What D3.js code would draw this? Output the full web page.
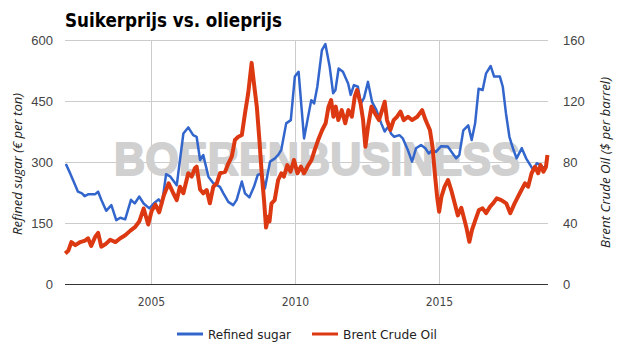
<!DOCTYPE html>
<html><head><meta charset="utf-8">
<script src="https://cdn.jsdelivr.net/npm/d3@7"></script>
<style>body{margin:0;background:#fff;} svg{display:block;}</style>
</head><body>
<svg id="c" width="625" height="355"></svg>
<script>
const title = "Suikerprijs vs. olieprijs";
const leftTicks = [0, 150, 300, 450, 600];
const rightTicks = [0, 40, 80, 120, 160];
const xTicks = [2005, 2010, 2015];
const seriesNames = ["Refined sugar", "Brent Crude Oil"];

const sugarYears = [2002.03,2002.18,2002.30,2002.45,2002.59,2002.68,2002.82,2003.05,2003.15,2003.26,2003.43,2003.61,2003.78,2003.92,2004.09,2004.29,2004.42,2004.58,2004.73,2004.93,2005.08,2005.25,2005.37,2005.51,2005.66,2005.88,2006.11,2006.28,2006.45,2006.57,2006.69,2006.80,2006.98,2007.15,2007.38,2007.50,2007.67,2007.84,2007.96,2008.14,2008.25,2008.40,2008.56,2008.69,2008.83,2008.94,2009.12,2009.29,2009.41,2009.51,2009.68,2009.84,2009.98,2010.11,2010.30,2010.44,2010.55,2010.65,2010.76,2010.92,2011.04,2011.19,2011.31,2011.39,2011.50,2011.65,2011.83,2011.92,2012.03,2012.17,2012.27,2012.38,2012.52,2012.66,2012.81,2012.98,2013.10,2013.22,2013.32,2013.43,2013.61,2013.73,2013.90,2014.05,2014.19,2014.36,2014.51,2014.63,2014.77,2014.88,2015.06,2015.29,2015.46,2015.58,2015.69,2015.83,2016.00,2016.12,2016.24,2016.36,2016.50,2016.62,2016.78,2016.90,2017.10,2017.20,2017.31,2017.43,2017.57,2017.68,2017.86,2018.01,2018.15,2018.26,2018.38,2018.49,2018.63,2018.72];
const sugarValues = [295,272,252,227,223,216,221,221,227,207,180,194,157,163,159,207,198,215,198,186,198,208,198,270,264,243,370,385,366,362,305,317,264,248,239,223,202,194,207,252,223,213,239,268,272,235,301,309,318,330,395,403,510,522,358,411,452,444,485,575,590,534,469,477,530,522,493,465,489,485,444,457,497,448,428,395,375,387,370,362,366,358,330,301,334,342,334,321,330,325,339,338,321,309,317,378,390,354,395,480,477,518,536,510,510,485,420,362,330,309,334,309,293,280,297,293,285,293];

const oilYears = [2002.01,2002.12,2002.22,2002.36,2002.53,2002.70,2002.80,2002.91,2003.05,2003.15,2003.26,2003.40,2003.57,2003.75,2003.92,2004.09,2004.27,2004.44,2004.58,2004.73,2004.89,2005.01,2005.14,2005.27,2005.43,2005.60,2005.76,2005.88,2005.99,2006.11,2006.28,2006.40,2006.51,2006.57,2006.69,2006.80,2006.92,2007.03,2007.15,2007.27,2007.38,2007.56,2007.67,2007.79,2007.90,2008.02,2008.14,2008.25,2008.36,2008.48,2008.56,2008.66,2008.75,2008.83,2008.91,2008.98,2009.06,2009.10,2009.17,2009.28,2009.40,2009.51,2009.60,2009.72,2009.83,2009.95,2010.07,2010.19,2010.30,2010.42,2010.56,2010.67,2010.79,2010.93,2011.05,2011.15,2011.24,2011.32,2011.40,2011.49,2011.61,2011.73,2011.84,2011.96,2012.06,2012.14,2012.26,2012.35,2012.43,2012.52,2012.64,2012.76,2012.90,2013.01,2013.10,2013.18,2013.30,2013.41,2013.53,2013.65,2013.76,2013.91,2014.05,2014.23,2014.40,2014.52,2014.67,2014.76,2014.84,2014.92,2014.99,2015.07,2015.18,2015.30,2015.41,2015.53,2015.64,2015.76,2015.87,2015.93,2016.04,2016.13,2016.25,2016.37,2016.50,2016.62,2016.76,2016.87,2016.99,2017.15,2017.32,2017.46,2017.61,2017.79,2017.97,2018.08,2018.20,2018.32,2018.43,2018.51,2018.61,2018.70,2018.75];
const oilValues = [20,22,27.5,25.5,27.5,28.5,30,25,31,33.5,24.5,26,29,27.5,30,32,35,37.5,41,49.5,39,48,52,47,58,66,59.5,55,63.8,59.5,72.6,70.4,75.9,77,62,59.5,61.6,52.9,63.8,66,72.6,73.6,79,83.5,94.4,96.6,97.7,112,125,145,131.6,116.3,94.4,72.6,55,37,44,41,52.9,55,68.2,72.6,70.4,78,73.6,81.3,72.6,77,72.6,77,81.3,87.9,94.4,101,105.4,116.3,120.6,109.7,116.3,107.5,114,105.4,114,109.7,122.8,127.2,118.5,107.5,90,103,116.3,112,107.5,114,119.5,107.5,101,107.5,109.7,113,107.5,109.7,107.5,109.7,114,107.5,101,90,72.6,57.2,47.4,57.2,63.8,68.2,61.6,52.9,45,50,42,37.6,27.7,35.4,42,48.5,49.6,46.5,50.7,53,56.2,55,52.9,46.4,52.9,59.5,66,63.8,72.6,76.9,72.6,78,73.6,76.9,84.6];

const svg = d3.select("#c");
const L = 65, R = 548, T = 40, B = 284;
const x = d3.scaleLinear().domain([2002, 2018.77]).range([L, R]);
const yL = d3.scaleLinear().domain([0, 600]).range([B, T]);
const yR = d3.scaleLinear().domain([0, 160]).range([B, T]);

// gridlines
svg.append("g").selectAll("line").data(leftTicks.filter(d => d > 0)).join("line")
  .attr("x1", L).attr("x2", R).attr("y1", d => yL(d)).attr("y2", d => yL(d))
  .attr("stroke", "#cccccc").attr("stroke-width", 1).attr("shape-rendering", "crispEdges");
svg.append("g").selectAll("line").data(xTicks).join("line")
  .attr("x1", d => Math.round(x(d)) + 0.5).attr("x2", d => Math.round(x(d)) + 0.5).attr("y1", T).attr("y2", B)
  .attr("stroke", "#cccccc").attr("stroke-width", 1);

// watermark
svg.append("text").attr("x", 114).attr("y", 175)
  .attr("font-family", "Liberation Sans, Arial, sans-serif").attr("font-weight", "bold")
  .attr("font-size", 46).attr("fill", "#d0d0d0")
  .attr("stroke", "#d0d0d0").attr("stroke-width", 1.8).attr("stroke-linejoin", "round")
  .attr("textLength", 406).attr("lengthAdjust", "spacingAndGlyphs")
  .text("BOERENBUSINESS");

// baseline
svg.append("line").attr("x1", L).attr("x2", R).attr("y1", B + 0.5).attr("y2", B + 0.5)
  .attr("stroke", "#333333").attr("stroke-width", 1);

// lines
const sugar = sugarYears.map((t, i) => [t, sugarValues[i]]);
const oil = oilYears.map((t, i) => [t, oilValues[i]]);
svg.append("path").datum(sugar)
  .attr("d", d3.line().x(d => x(d[0])).y(d => yL(d[1])))
  .attr("fill", "none").attr("stroke", "#3366cc").attr("stroke-width", 2.5).attr("stroke-linejoin", "round");
svg.append("path").datum(oil)
  .attr("d", d3.line().x(d => x(d[0])).y(d => yR(d[1])))
  .attr("fill", "none").attr("stroke", "#dc3912").attr("stroke-width", 4).attr("stroke-linejoin", "round");

const tickFont = "Liberation Sans, Arial, sans-serif";
// left ticks
svg.append("g").selectAll("text").data(leftTicks).join("text")
  .attr("x", 53).attr("y", d => yL(d) + 5).attr("text-anchor", "end")
  .attr("font-family", tickFont).attr("font-size", 13).attr("fill", "#444")
  .text(d => d);
// right ticks
svg.append("g").selectAll("text").data(rightTicks).join("text")
  .attr("x", 563).attr("y", d => yR(d) + 5).attr("text-anchor", "start")
  .attr("font-family", tickFont).attr("font-size", 13).attr("fill", "#444")
  .text(d => d);
// x ticks
svg.append("g").selectAll("text").data(xTicks).join("text")
  .attr("x", d => x(d)).attr("y", 306).attr("text-anchor", "middle")
  .attr("font-family", "DejaVu Sans Condensed, DejaVu Sans, sans-serif").attr("font-size", 12).attr("fill", "#444")
  .text(d => d3.format("d")(d));

// axis titles
svg.append("text").attr("transform", "translate(22,164) rotate(-90)").attr("text-anchor", "middle")
  .attr("font-family", "Open Sans, sans-serif").attr("font-style", "italic").attr("font-size", 12).attr("fill", "#222")
  .attr("textLength", 142).attr("lengthAdjust", "spacingAndGlyphs")
  .text("Refined sugar (€ per ton)");
svg.append("text").attr("transform", "translate(610,162.5) rotate(-90)").attr("text-anchor", "middle")
  .attr("font-family", "Open Sans, sans-serif").attr("font-style", "italic").attr("font-size", 12).attr("fill", "#222")
  .attr("textLength", 171).attr("lengthAdjust", "spacingAndGlyphs")
  .text("Brent Crude Oil ($ per barrel)");

// title
svg.append("text").attr("x", 65).attr("y", 27)
  .attr("font-family", "DejaVu Sans, sans-serif").attr("font-weight", "bold").attr("font-size", 19).attr("fill", "#000")
  .attr("textLength", 217).attr("lengthAdjust", "spacingAndGlyphs")
  .text(title);

// legend
const legend = [
  {name: seriesNames[0], color: "#3366cc", x0: 177, tx: 208, w: 83},
  {name: seriesNames[1], color: "#dc3912", x0: 312, tx: 343, w: 94}
];
const lg = svg.append("g");
lg.selectAll("line").data(legend).join("line")
  .attr("x1", d => d.x0).attr("x2", d => d.x0 + 26).attr("y1", 334).attr("y2", 334)
  .attr("stroke", d => d.color).attr("stroke-width", 3);
lg.selectAll("text").data(legend).join("text")
  .attr("x", d => d.tx).attr("y", 338.5)
  .attr("font-family", "DejaVu Sans Condensed, DejaVu Sans, sans-serif").attr("font-size", 12).attr("fill", "#222")
  .attr("textLength", d => d.w).attr("lengthAdjust", "spacingAndGlyphs")
  .text(d => d.name);
</script>
</body></html>
